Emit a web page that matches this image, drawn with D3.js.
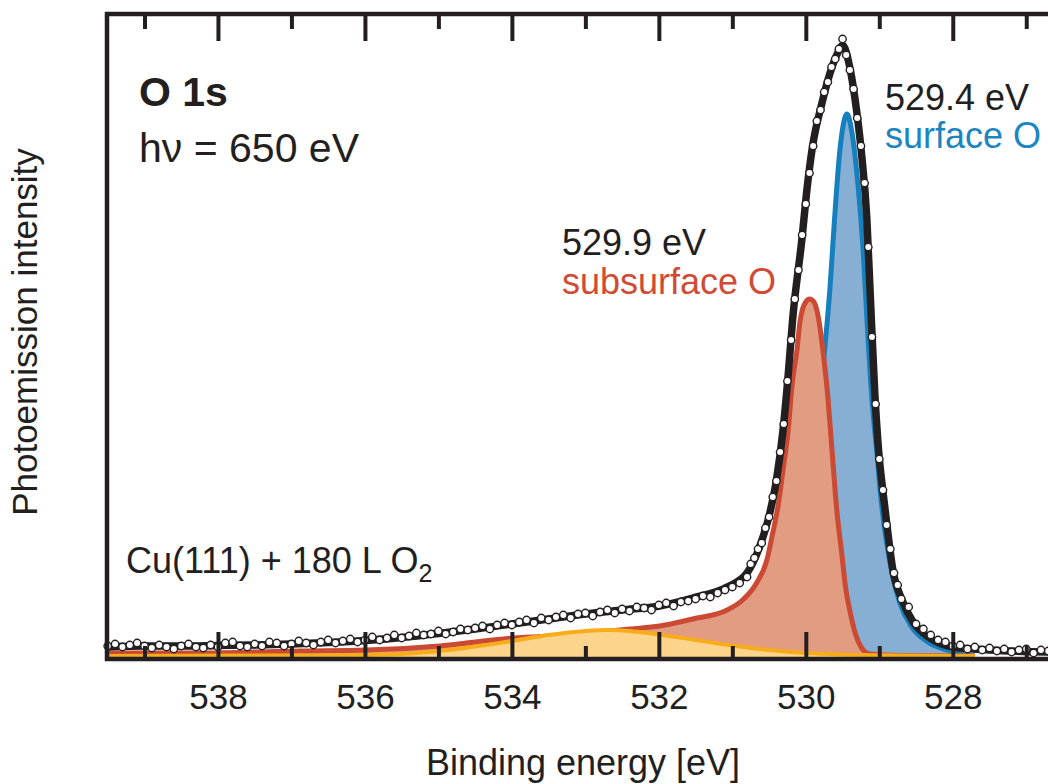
<!DOCTYPE html>
<html lang="en">
<head>
<meta charset="UTF-8">
<title>O 1s spectrum</title>
<style>
  body { margin: 0; background: #fff; }
  svg text { font-family: "Liberation Sans", Arial, Helvetica, sans-serif; fill: #231f20; }
</style>
</head>
<body>
<svg id="chart" width="1048" height="784"></svg>
<script src="https://d3js.org/d3.v7.min.js"></script>
<script>
// [binding energy (eV), intensity (arb. u.)]
const measured = [
  [539.5,13],[539.4,15],[539.3,12],[539.2,14],[539.1,16],[539.0,13],[538.9,11],[538.8,14],[538.7,12],[538.6,10],
  [538.5,13],[538.4,15],[538.3,12],[538.2,11],[538.1,14],[538.0,12],[537.9,16],[537.8,17],[537.7,13],[537.6,12],
  [537.5,15],[537.4,13],[537.3,17],[537.2,16],[537.1,13],[537.0,15],[536.9,18],[536.8,16],[536.7,14],[536.6,17],
  [536.5,19],[536.4,16],[536.3,18],[536.2,20],[536.1,17],[536.0,19],[535.9,22],[535.8,19],[535.7,21],[535.6,24],
  [535.5,21],[535.4,23],[535.3,26],[535.2,24],[535.1,25],[535.0,28],[534.9,25],[534.8,27],[534.7,30],[534.6,29],
  [534.5,31],[534.4,33],[534.3,30],[534.2,34],[534.1,36],[534.0,34],[533.9,37],[533.8,39],[533.7,36],[533.6,41],
  [533.5,39],[533.4,42],[533.3,44],[533.2,41],[533.1,45],[533.0,46],[532.9,43],[532.8,47],[532.7,49],[532.6,46],
  [532.5,50],[532.4,48],[532.3,52],[532.2,51],[532.1,49],[532.0,54],[531.9,56],[531.8,53],[531.7,57],[531.6,58],
  [531.5,60],[531.4,63],[531.3,62],[531.2,66],[531.1,69],[531.0,72],[530.9,76],[530.8,82],
  [530.75,95],[530.7,101],[530.65,110],[530.6,116],[530.55,131],[530.5,142],[530.45,162],[530.4,178],[530.35,207],
  [530.3,235],[530.25,278],[530.2,319],[530.15,360],[530.1,389],[530.05,424],[530.0,455],[529.95,486],[529.9,513],
  [529.85,538],[529.8,549],[529.75,567],[529.7,577],[529.65,592],[529.6,600],[529.55,610],[529.5,620],[529.45,604],
  [529.4,589],[529.35,570],[529.3,541],[529.25,513],[529.2,476],[529.15,412],[529.1,322],[529.05,255],[529.0,200],
  [528.95,169],[528.9,134],[528.85,110],[528.8,86],[528.75,74],[528.7,60],
  [528.6,52],[528.5,35],[528.4,30],[528.3,24],[528.2,19],[528.1,17],[528.0,13],[527.9,14],[527.8,10],[527.7,12],
  [527.6,9],[527.5,11],[527.4,8],[527.3,10],[527.2,7],[527.1,9],[527.0,10],[526.9,6],[526.8,9],[526.7,8]
];

const totalFit = [
  [539.51,12],[539.0,13],[538.5,13],[538.0,13.5],[537.5,14],[537.0,15],[536.5,16.5],[536.0,18.5],[535.5,21.5],
  [535.0,25.5],[534.5,30],[534.0,35],[533.5,40],[533.0,45],[532.5,49],[531.99,53],[531.54,61],[531.07,72],
  [530.8,86],[530.63,112],[530.49,146],[530.4,179],[530.31,229],[530.24,284],[530.18,339],[530.05,422],
  [529.99,466],[529.91,512],[529.78,556],[529.67,586],[529.56,607],[529.5,614],[529.4,591],[529.31,549],
  [529.24,504],[529.17,441],[529.12,359],[529.06,264],[529.01,209],[528.95,167],[528.88,124],[528.82,91],
  [528.69,59],[528.54,37],[528.31,21],[528.0,12],[527.5,9],[526.6,7]
];

const surfaceO = [
  [539.51,3],[532.8,4],[531.44,7],[530.9,14],[530.49,29],[530.22,59],[530.08,99],[529.95,164],[529.88,209],
  [529.81,259],[529.74,312],[529.67,372],[529.61,439],[529.54,506],[529.5,530],[529.44,545],[529.38,530],
  [529.29,474],[529.22,409],[529.16,329],[529.1,259],[529.03,204],[528.98,162],[528.91,121],[528.83,87],
  [528.72,56],[528.56,32],[528.34,17],[528.04,8],[527.84,4],[527.7,3]
];

const subsurfaceO = [
  [539.51,6],[538.24,6],[536.88,8],[535.97,9],[534.98,13],[533.99,21],[533.21,24],[532.39,30],[531.99,33],
  [531.54,40],[531.07,49],[530.86,59],[530.67,76],[530.53,99],[530.45,126],[530.38,152],[530.31,189],
  [530.24,229],[530.18,279],[530.12,309],[530.08,337],[530.04,351],[530.0,357],[529.95,360],[529.89,357],
  [529.85,349],[529.81,333],[529.76,304],[529.7,262],[529.65,215],[529.58,150],[529.51,105],[529.46,72],
  [529.4,48],[529.32,24],[529.24,11],[529.13,5],[528.72,3.5],[527.7,3]
];

const broadO = [
  [539.51,3],[537.0,3.5],[536.0,4],[535.5,5],[535.0,8],[534.5,12.5],[534.0,18],[533.5,24],[533.0,28],
  [532.7,29],[532.4,28],[532.0,24.5],[531.5,19],[531.0,13.5],[530.5,9],[530.0,6],[529.5,4.5],[528.7,3.5],[527.7,3]
];

const majorTicks = [538, 536, 534, 532, 530, 528];
const minorTicks = [539, 537, 535, 533, 531, 529, 527];

const ink = "#231f20";
const svg = d3.select("#chart");

const x = d3.scaleLinear().domain([539.51, 526.5]).range([107, 1063]);
const y = d3.scaleLinear().domain([0, 645]).range([659, 14]);

const area = d3.area()
  .x(d => x(d[0]))
  .y0(y(0))
  .y1(d => y(d[1]))
  .curve(d3.curveMonotoneX);
const line = d3.line()
  .x(d => x(d[0]))
  .y(d => y(d[1]))
  .curve(d3.curveMonotoneX);

// fit components: surface, subsurface, broad component on top
const comps = [
  { data: surfaceO, fill: "#86afd3", stroke: "#1580bd", w: 5 },
  { data: subsurfaceO, fill: "#e19c82", stroke: "#cb4a33", w: 5 },
  { data: broadO, fill: "#fdd48c", stroke: "#f8ac1a", w: 4 }
];
comps.forEach(c => {
  svg.append("path").datum(c.data).attr("d", area).attr("fill", c.fill);
  svg.append("path").datum(c.data).attr("d", line)
    .attr("fill", "none").attr("stroke", c.stroke).attr("stroke-width", c.w);
});

// total fit
svg.append("path").datum(totalFit).attr("d", line)
  .attr("fill", "none").attr("stroke", ink).attr("stroke-width", 7.5)
  .attr("stroke-linejoin", "round");

// measured points
svg.append("g").selectAll("circle")
  .data(measured)
  .enter().append("circle")
  .attr("cx", d => x(d[0]))
  .attr("cy", d => y(d[1]))
  .attr("r", 3.7)
  .attr("fill", "#fff")
  .attr("stroke", ink)
  .attr("stroke-width", 1.4);

// axes (ticks inside)
function addAxis(axis, ty, labels) {
  const g = svg.append("g").attr("transform", `translate(0,${ty})`).call(axis);
  g.select(".domain").remove();
  g.selectAll(".tick line").attr("stroke", ink).attr("stroke-width", 4);
  if (labels) {
    g.selectAll(".tick text").attr("font-size", 35).attr("fill", ink)
      .attr("font-family", "'Liberation Sans', Arial, sans-serif");
  }
}
addAxis(d3.axisBottom(x).tickValues(majorTicks).tickSizeInner(-27).tickSizeOuter(0)
  .tickPadding(25).tickFormat(d3.format("d")), 659, true);
addAxis(d3.axisBottom(x).tickValues(minorTicks).tickSizeInner(-13).tickSizeOuter(0).tickFormat(""), 659);
addAxis(d3.axisTop(x).tickValues(majorTicks).tickSizeInner(-27).tickSizeOuter(0).tickFormat(""), 14);
addAxis(d3.axisTop(x).tickValues(minorTicks).tickSizeInner(-15).tickSizeOuter(0).tickFormat(""), 14);

// frame
svg.append("path")
  .attr("d", `M1070,14H107V659H1070`)
  .attr("fill", "none").attr("stroke", ink).attr("stroke-width", 4.5);

// labels
svg.append("text").attr("x", 583).attr("y", 775).attr("text-anchor", "middle")
  .attr("font-size", 36).text("Binding energy [eV]");
svg.append("text").attr("transform", "translate(37,332) rotate(-90)").attr("text-anchor", "middle")
  .attr("font-size", 35).text("Photoemission intensity");

svg.append("text").attr("x", 139).attr("y", 106).attr("font-size", 41).attr("font-weight", "bold").text("O 1s");
svg.append("text").attr("x", 139).attr("y", 162).attr("font-size", 41).text("h\u03bd = 650 eV");

svg.append("text").attr("x", 885).attr("y", 110).attr("font-size", 36).text("529.4 eV");
svg.append("text").attr("x", 885).attr("y", 148).attr("font-size", 36).style("fill", "#1a85c0").text("surface O");
svg.append("text").attr("x", 562).attr("y", 255).attr("font-size", 36).text("529.9 eV");
svg.append("text").attr("x", 562).attr("y", 294).attr("font-size", 36).style("fill", "#d04a35").text("subsurface O");

const cu = svg.append("text").attr("x", 126).attr("y", 573).attr("font-size", 36);
cu.append("tspan").text("Cu(111) + 180 L O");
cu.append("tspan").attr("dy", 9).attr("font-size", 25).text("2");
</script>
</body>
</html>
